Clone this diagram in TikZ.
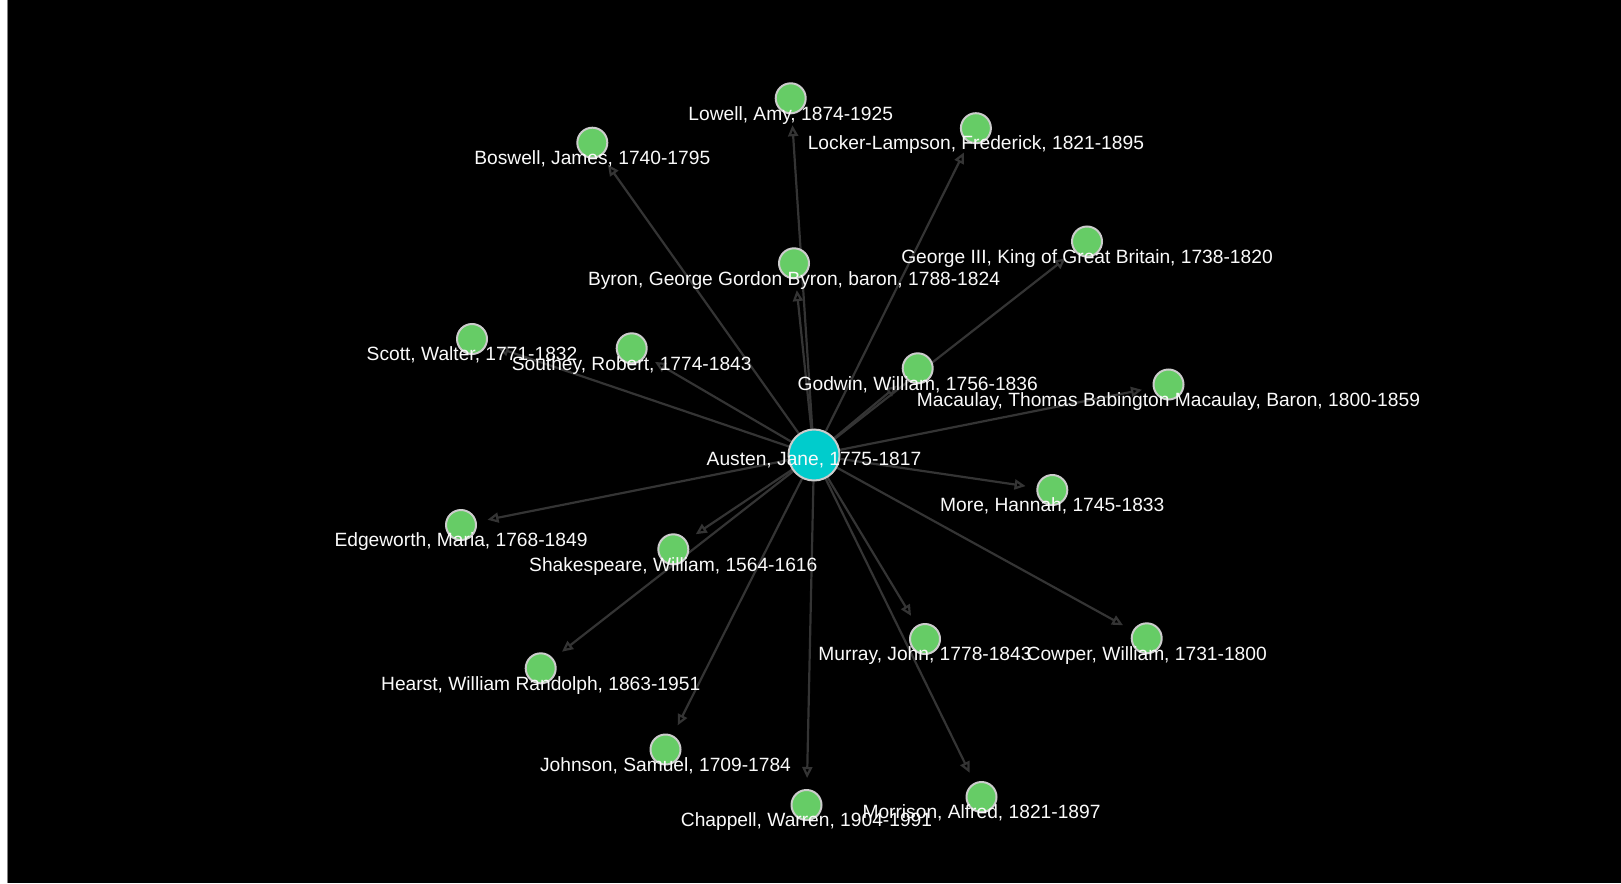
\documentclass[tikz,border=0pt]{standalone}
\usepackage{fontspec}
\setmainfont{Liberation Sans}
\usetikzlibrary{arrows.meta}
\definecolor{nodegreen}{RGB}{102,204,102}
\definecolor{austencyan}{RGB}{0,204,204}
\definecolor{ringgray}{RGB}{204,204,204}
\definecolor{edgegray}{RGB}{52,52,52}
\definecolor{labwhite}{RGB}{250,250,250}
\pgfdeclarelayer{bg}
\pgfdeclarelayer{edges}
\pgfsetlayers{bg,edges,main}
\tikzset{
  person/.style={circle, fill=nodegreen, draw=ringgray, line width=1pt, minimum size=15pt, inner sep=0pt},
  hub/.style={person, fill=austencyan, minimum size=25.5pt},
  lab/.style={text=labwhite, font=\fontsize{9.6}{11}\selectfont, anchor=base, inner sep=0pt},
  link/.style={draw=edgegray, line width=1.1pt, -{Triangle[open,length=5.5pt,width=5pt]}, shorten >=5.5pt}
}
\begin{document}
\begin{tikzpicture}[x=0.5pt,y=-0.5pt]
\useasboundingbox (0,0) rectangle (1621,883);
\begin{pgfonlayer}{bg}
  \fill[white] (0,0) rectangle (1621,883);
  \fill[black] (7,0) rectangle (1621,883);
  \draw[gray, line width=0.6pt] (7.5,0) -- (7.5,883);
\end{pgfonlayer}

% nodes
\node[hub] (austen) at (814,455) {};
\node[person] (lowell) at (790.7,98.3) {};
\node[person] (locker) at (975.9,128.2) {};
\node[person] (boswell) at (592.3,142.7) {};
\node[person] (byron) at (794,263.3) {};
\node[person] (george) at (1087,241.5) {};
\node[person] (scott) at (472,339) {};
\node[person] (southey) at (631.7,348.3) {};
\node[person] (godwin) at (917.7,368.3) {};
\node[person] (macaulay) at (1168.5,384.5) {};
\node[person] (more) at (1052.3,490) {};
\node[person] (edgeworth) at (461,525) {};
\node[person] (shakespeare) at (673.3,549.3) {};
\node[person] (murray) at (925,639) {};
\node[person] (cowper) at (1146.7,638.3) {};
\node[person] (hearst) at (540.7,668.3) {};
\node[person] (johnson) at (665.5,749.5) {};
\node[person] (chappell) at (806.5,805) {};
\node[person] (morrison) at (981.5,797) {};

% edges
\begin{pgfonlayer}{edges}
\foreach \t in {lowell,locker,boswell,byron,george,scott,southey,godwin,macaulay,more,edgeworth,shakespeare,murray,cowper,hearst,johnson,chappell,morrison}{
  \draw[link] (austen) -- (\t);
}
\end{pgfonlayer}

% labels
\node[lab] (t-austen) at ([yshift=-5.35pt]austen.center) {Austen, Jane, 1775-1817};
\node[lab] (t-lowell) at ([yshift=-10.85pt]lowell.center) {Lowell, Amy, 1874-1925};
\node[lab] (t-locker) at ([yshift=-10.85pt]locker.center) {Locker-Lampson, Frederick, 1821-1895};
\node[lab] (t-boswell) at ([yshift=-10.85pt]boswell.center) {Boswell, James, 1740-1795};
\node[lab] (t-byron) at ([yshift=-10.85pt]byron.center) {Byron, George Gordon Byron, baron, 1788-1824};
\node[lab] (t-george) at ([yshift=-10.85pt]george.center) {George III, King of Great Britain, 1738-1820};
\node[lab] (t-scott) at ([yshift=-10.85pt]scott.center) {Scott, Walter, 1771-1832};
\node[lab] (t-southey) at ([yshift=-10.85pt]southey.center) {Southey, Robert, 1774-1843};
\node[lab] (t-godwin) at ([yshift=-10.85pt]godwin.center) {Godwin, William, 1756-1836};
\node[lab] (t-macaulay) at ([yshift=-10.85pt]macaulay.center) {Macaulay, Thomas Babington Macaulay, Baron, 1800-1859};
\node[lab] (t-more) at ([yshift=-10.85pt]more.center) {More, Hannah, 1745-1833};
\node[lab] (t-edgeworth) at ([yshift=-10.85pt]edgeworth.center) {Edgeworth, Maria, 1768-1849};
\node[lab] (t-shakespeare) at ([yshift=-10.85pt]shakespeare.center) {Shakespeare, William, 1564-1616};
\node[lab] (t-murray) at ([yshift=-10.85pt]murray.center) {Murray, John, 1778-1843};
\node[lab] (t-cowper) at ([yshift=-10.85pt]cowper.center) {Cowper, William, 1731-1800};
\node[lab] (t-hearst) at ([yshift=-10.85pt]hearst.center) {Hearst, William Randolph, 1863-1951};
\node[lab] (t-johnson) at ([yshift=-10.85pt]johnson.center) {Johnson, Samuel, 1709-1784};
\node[lab] (t-chappell) at ([yshift=-10.85pt]chappell.center) {Chappell, Warren, 1904-1991};
\node[lab] (t-morrison) at ([yshift=-10.85pt]morrison.center) {Morrison, Alfred, 1821-1897};
\end{tikzpicture}
\end{document}
